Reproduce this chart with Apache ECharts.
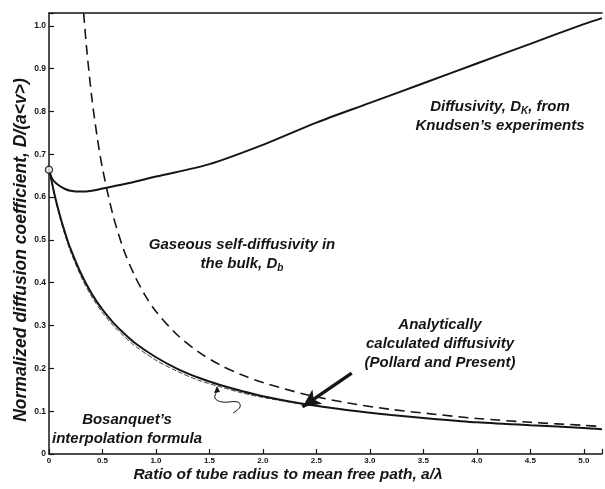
<!DOCTYPE html>
<html>
<head>
<meta charset="utf-8">
<script src="https://cdn.jsdelivr.net/npm/echarts@6/dist/echarts.min.js"></script>
<style>
  html, body { margin: 0; padding: 0; background: #fff; }
  #chart { width: 605px; height: 489px; }
</style>
</head>
<body>
<div id="chart"></div>
<script>
// Knudsen's experimental diffusivity D_K (solid, upper curve)
const knudsenX = [0, 0.02, 0.05, 0.1, 0.15, 0.2, 0.3, 0.4, 0.5, 0.75, 1.0, 1.5, 2.0, 2.5, 3.0, 3.5, 4.0, 4.5, 5.0, 5.17];
const knudsenY = [0.664, 0.648, 0.636, 0.626, 0.619, 0.615, 0.613, 0.615, 0.620, 0.633, 0.648, 0.677, 0.722, 0.774, 0.820, 0.866, 0.912, 0.958, 1.004, 1.018];

// gaseous self-diffusivity in the bulk, D_b (long dashes)
const bulkX = [0.324, 0.35, 0.4, 0.45, 0.5, 0.6, 0.7, 0.8, 0.9, 1.0, 1.2, 1.4, 1.6, 1.8, 2.0, 2.4, 2.8, 3.2, 3.6, 4.0, 4.5, 5.0, 5.17];
const bulkY = [1.03, 0.952, 0.833, 0.741, 0.667, 0.556, 0.476, 0.417, 0.370, 0.333, 0.278, 0.238, 0.208, 0.185, 0.167, 0.139, 0.119, 0.104, 0.093, 0.083, 0.074, 0.067, 0.064];

// analytically calculated diffusivity, Pollard and Present (solid)
const pollardX = [0, 0.05, 0.1, 0.15, 0.2, 0.3, 0.4, 0.5, 0.6, 0.7, 0.8, 1.0, 1.2, 1.4, 1.6, 1.8, 2.0, 2.4, 2.8, 3.2, 3.6, 4.0, 4.5, 5.0, 5.17];
const pollardY = [0.667, 0.608, 0.559, 0.517, 0.480, 0.421, 0.374, 0.337, 0.307, 0.282, 0.260, 0.226, 0.199, 0.178, 0.161, 0.147, 0.135, 0.116, 0.102, 0.091, 0.082, 0.074, 0.067, 0.061, 0.058];

// Bosanquet's interpolation formula (thin dashes, hugging the solid curve)
const bosanquetX = [0, 0.05, 0.1, 0.15, 0.2, 0.3, 0.4, 0.5, 0.6, 0.7, 0.8, 1.0, 1.2, 1.4, 1.6, 1.8, 2.0, 2.4];
const bosanquetY = [0.667, 0.605, 0.554, 0.511, 0.474, 0.414, 0.367, 0.330, 0.300, 0.275, 0.253, 0.219, 0.193, 0.172, 0.157, 0.143, 0.132, 0.115];

const xTicks = [0, 0.5, 1.0, 1.5, 2.0, 2.5, 3.0, 3.5, 4.0, 4.5, 5.0];
const yTicks = [0, 0.1, 0.2, 0.3, 0.4, 0.5, 0.6, 0.7, 0.8, 0.9, 1.0];

const pair = (xs, ys) => xs.map((x, i) => [x, ys[i]]);
const onTick = (list, v) => list.some(t => Math.abs(t - v) < 1e-6);
const tickText = v => (v === 0 ? '0' : v.toFixed(1));

const FONT = '"Liberation Sans", Arial, sans-serif';
const INK = '#151515';

const chart = echarts.init(document.getElementById('chart'));

const labelStyle = {
  fontFamily: FONT, fontStyle: 'italic', fontWeight: 'bold',
  fontSize: 15, fill: INK, textAlign: 'center', textVerticalAlign: 'middle'
};

function label(x, y, text, extra, rotation) {
  return {
    type: 'text', x: x, y: y, rotation: rotation || 0, silent: true,
    style: Object.assign({}, labelStyle, { text: text }, extra || {})
  };
}

// D_K, D_b style subscripts
const subRich = {
  t: { fontFamily: FONT, fontStyle: 'italic', fontWeight: 'bold', fontSize: 15, color: INK },
  s: { fontFamily: FONT, fontStyle: 'italic', fontWeight: 'bold', fontSize: 10, color: INK, verticalAlign: 'bottom', padding: [8, 0, 0, 0] }
};

const option = {
  animation: false,
  backgroundColor: '#fff',
  grid: { left: 49, right: 0, top: 13, bottom: 35 },
  xAxis: [
    {
      type: 'value', min: 0, max: 5.17, interval: 0.5,
      axisLine: { lineStyle: { color: INK, width: 1.5 } },
      axisTick: { inside: true, length: 5, lineStyle: { color: INK, width: 1.2 } },
      axisLabel: {
        margin: 3, fontFamily: FONT, fontSize: 8, fontWeight: 'bold', color: INK,
        formatter: v => (onTick(xTicks, v) ? tickText(v) : '')
      },
      splitLine: { show: false }
    },
    {
      type: 'value', position: 'top', min: 0, max: 5.17,
      axisLine: { show: true, onZero: false, lineStyle: { color: INK, width: 1.5 } },
      axisTick: { show: false }, axisLabel: { show: false }, splitLine: { show: false }
    }
  ],
  yAxis: {
    type: 'value', min: 0, max: 1.03, interval: 0.1,
    axisLine: { show: true, lineStyle: { color: INK, width: 1.5 } },
    axisTick: { show: true, inside: true, length: 5, lineStyle: { color: INK, width: 1.2 } },
    axisLabel: {
      margin: 3, fontFamily: FONT, fontSize: 8.5, fontWeight: 'bold', color: INK,
      formatter: v => (onTick(yTicks, v) ? tickText(v) : '')
    },
    splitLine: { show: false }
  },
  series: [
    {
      name: 'Knudsen', type: 'line', smooth: 0.3, symbol: 'none',
      data: pair(knudsenX, knudsenY),
      lineStyle: { color: INK, width: 2 }
    },
    {
      name: 'Bulk', type: 'line', smooth: 0.3, symbol: 'none',
      data: pair(bulkX, bulkY),
      lineStyle: { color: INK, width: 1.6, type: [10, 6] }
    },
    {
      name: 'Bosanquet', type: 'line', smooth: 0.3, symbol: 'none',
      data: pair(bosanquetX, bosanquetY),
      lineStyle: { color: '#444', width: 1, type: [5, 2] }
    },
    {
      name: 'Pollard', type: 'line', smooth: 0.3, symbol: 'none',
      data: pair(pollardX, pollardY),
      lineStyle: { color: INK, width: 2 },
      markLine: {
        silent: true, symbol: ['none', 'arrow'], symbolSize: [13, 18],
        lineStyle: { color: INK, width: 3.5, type: 'solid' },
        label: { show: false },
        data: [[{ coord: [2.83, 0.189] }, { coord: [2.37, 0.11] }]]
      }
    },
    {
      name: 'start', type: 'scatter', symbol: 'circle', symbolSize: 7,
      data: [[0, 0.664]],
      itemStyle: { color: '#fff', borderColor: INK, borderWidth: 1.5 },
      z: 5
    }
  ],
  graphic: [
    label(288, 475, 'Ratio of tube radius to mean free path, a/λ', { fontSize: 15.5 }),
    label(21, 250, 'Normalized diffusion coefficient, D/(a<v>)', { fontSize: 17.5 }, Math.PI / 2),
    label(500, 107, '', { rich: subRich, text: '{t|Diffusivity, D}{s|K}{t|, from}' }),
    label(500, 126, 'Knudsen\u2019s experiments'),
    label(242, 245, 'Gaseous self-diffusivity in'),
    label(242, 264, '', { rich: subRich, text: '{t|the bulk, D}{s|b}' }),
    label(440, 325, 'Analytically'),
    label(440, 344, 'calculated diffusivity'),
    label(440, 363, '(Pollard and Present)'),
    label(127, 420, 'Bosanquet\u2019s'),
    label(127, 439, 'interpolation formula'),
    {
      type: 'polyline', silent: true,
      shape: { points: [[217, 391], [215, 398], [222, 402], [238, 402], [240, 407], [233, 413]], smooth: 0.4 },
      style: { stroke: INK, lineWidth: 1, fill: null }
    },
    {
      type: 'polygon', silent: true,
      shape: { points: [[217, 386], [214, 393], [220, 392]] },
      style: { fill: INK }
    }
  ]
};

chart.setOption(option);
</script>
</body>
</html>
